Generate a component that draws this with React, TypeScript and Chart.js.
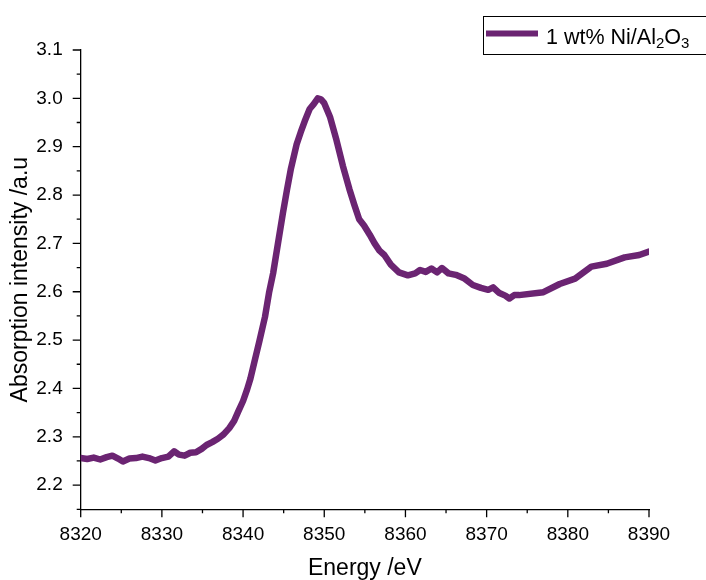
import React, { useEffect, useRef } from "react";
import { Chart, registerables } from "chart.js";

Chart.register(...registerables);

const energy = [
  8320, 8320.8, 8321.6, 8322.4, 8323.2, 8323.9, 8324.6, 8325.2, 8326.0, 8326.8,
  8327.6, 8328.4, 8329.2, 8330.0, 8330.8, 8331.5, 8332.1, 8332.8, 8333.5, 8334.2,
  8334.9, 8335.5, 8336.2, 8336.9, 8337.6, 8338.3, 8338.9, 8339.4, 8340.0, 8340.5,
  8340.9, 8341.4, 8342.0, 8342.7, 8343.2, 8343.7, 8344.3, 8344.9, 8345.4, 8345.9,
  8346.6, 8347.1, 8347.6, 8348.2, 8348.7, 8349.2, 8349.6, 8350.0, 8350.7, 8351.5,
  8352.3, 8353.1, 8353.7, 8354.3, 8354.9, 8355.6, 8356.2, 8356.8, 8357.4, 8358.2,
  8359.2, 8360.3, 8361.2, 8361.8, 8362.5, 8363.2, 8363.9, 8364.5, 8365.3, 8366.2,
  8367.2, 8368.3, 8369.3, 8370.2, 8370.8, 8371.5, 8372.3, 8372.8, 8373.4, 8374.0,
  8377.0, 8379.0, 8380.9, 8382.9, 8384.8, 8387.0, 8388.8, 8390,
];

const absorption = [
  2.256, 2.254, 2.257, 2.253, 2.258, 2.261, 2.255, 2.249, 2.255, 2.256,
  2.259, 2.256, 2.251, 2.256, 2.259, 2.27, 2.263, 2.261, 2.267, 2.268,
  2.275, 2.283, 2.289, 2.296, 2.305, 2.318, 2.333, 2.352, 2.374, 2.398,
  2.42, 2.455, 2.497, 2.548, 2.598, 2.638, 2.7, 2.762, 2.81, 2.855,
  2.905, 2.93, 2.953, 2.978, 2.988, 3.0, 2.998, 2.99, 2.962, 2.914,
  2.86, 2.812, 2.78, 2.75, 2.737, 2.718, 2.7, 2.685, 2.676, 2.656,
  2.64, 2.634, 2.638, 2.645, 2.641, 2.648, 2.64, 2.649, 2.638, 2.635,
  2.628, 2.614, 2.608, 2.604, 2.609, 2.598, 2.592, 2.586, 2.593, 2.593,
  2.599, 2.616, 2.627, 2.652, 2.658, 2.671, 2.676, 2.683,
];

const xMajorTicks = [8320, 8330, 8340, 8350, 8360, 8370, 8380, 8390];
const xMinorTicks = [8325, 8335, 8345, 8355, 8365, 8375, 8385];
const yMajorTicks = [2.2, 2.3, 2.4, 2.5, 2.6, 2.7, 2.8, 2.9, 3.0, 3.1];
const yMinorTicks = [2.15, 2.25, 2.35, 2.45, 2.55, 2.65, 2.75, 2.85, 2.95, 3.05];

const seriesLabelParts: { text: string; sub: boolean }[] = [
  { text: "1 wt% Ni/Al", sub: false },
  { text: "2", sub: true },
  { text: "O", sub: false },
  { text: "3", sub: true },
];

const xTitle = "Energy /eV";
const yTitle = "Absorption intensity /a.u";

const LINE_COLOR = "#6B2472";
const FONT = "'Liberation Sans', Arial, sans-serif";

const tickPlugin = {
  id: "manualTicks",
  afterDraw(chart: any) {
    const ctx = chart.ctx;
    const xs = chart.scales.x;
    const ys = chart.scales.y;
    const area = chart.chartArea;
    ctx.save();
    ctx.strokeStyle = "#000";
    ctx.lineWidth = 1.3;
    ctx.beginPath();
    for (const v of xMajorTicks) {
      const px = xs.getPixelForValue(v);
      ctx.moveTo(px, area.bottom);
      ctx.lineTo(px, area.bottom + 8);
    }
    for (const v of xMinorTicks) {
      const px = xs.getPixelForValue(v);
      ctx.moveTo(px, area.bottom);
      ctx.lineTo(px, area.bottom + 4);
    }
    for (const v of yMajorTicks) {
      const py = ys.getPixelForValue(v);
      ctx.moveTo(area.left, py);
      ctx.lineTo(area.left - 8, py);
    }
    for (const v of yMinorTicks) {
      const py = ys.getPixelForValue(v);
      ctx.moveTo(area.left, py);
      ctx.lineTo(area.left - 4, py);
    }
    ctx.stroke();

    // legend
    const bx = 483;
    const by = 16;
    ctx.lineWidth = 1;
    ctx.strokeStyle = "#000";
    ctx.fillStyle = "#fff";
    ctx.fillRect(bx, by, 260, 38);
    ctx.strokeRect(bx + 0.5, by + 0.5, 260, 38);
    ctx.strokeStyle = LINE_COLOR;
    ctx.lineWidth = 6;
    ctx.beginPath();
    ctx.moveTo(486, 33.5);
    ctx.lineTo(538, 33.5);
    ctx.stroke();
    ctx.fillStyle = "#000";
    ctx.textBaseline = "alphabetic";
    ctx.textAlign = "left";
    let tx = 546;
    for (const p of seriesLabelParts) {
      if (p.sub) {
        ctx.font = `15px ${FONT}`;
        ctx.fillText(p.text, tx, 48);
      } else {
        ctx.font = `21.5px ${FONT}`;
        ctx.fillText(p.text, tx, 43.5);
      }
      tx += ctx.measureText(p.text).width;
    }
    ctx.restore();
  },
};

export default function App() {
  const ref = useRef<HTMLCanvasElement | null>(null);
  useEffect(() => {
    if (!ref.current) return;
    const chart = new Chart(ref.current, {
      type: "line",
      data: {
        datasets: [
          {
            label: "1 wt% Ni/Al2O3",
            data: energy.map((e, i) => ({ x: e, y: absorption[i] })),
            borderColor: LINE_COLOR,
            borderWidth: 6.5,
            pointRadius: 0,
            tension: 0,
            borderJoinStyle: "round",
            borderCapStyle: "round",
          },
        ],
      },
      options: {
        animation: false,
        responsive: false,
        maintainAspectRatio: false,
        devicePixelRatio: 1,
        layout: { padding: { left: 0, right: 57, top: 50, bottom: 0 } },
        plugins: { legend: { display: false }, tooltip: { enabled: false } },
        scales: {
          x: {
            type: "linear",
            min: 8320,
            max: 8390,
            afterBuildTicks: (s: any) => {
              s.ticks = xMajorTicks.map((v) => ({ value: v }));
            },
            afterFit: (s: any) => {
              s.height = 70.7;
            },
            grid: { display: false, drawTicks: false },
            border: { display: true, color: "#000", width: 1.3 },
            ticks: {
              color: "#000",
              padding: 14,
              maxRotation: 0,
              autoSkip: false,
              font: { family: FONT, size: 19 },
              callback: (v: any) => String(v),
            },
            title: {
              display: true,
              text: xTitle,
              color: "#000",
              font: { family: FONT, size: 23, lineHeight: 1 },
              padding: { top: 0, bottom: 0 },
            },
          },
          y: {
            type: "linear",
            min: 2.15,
            max: 3.1,
            afterBuildTicks: (s: any) => {
              s.ticks = yMajorTicks.map((v) => ({ value: v }));
            },
            afterFit: (s: any) => {
              s.width = 80.7;
            },
            grid: { display: false, drawTicks: false },
            border: { display: true, color: "#000", width: 1.3 },
            ticks: {
              color: "#000",
              padding: 18,
              autoSkip: false,
              font: { family: FONT, size: 19 },
              callback: (v: any) => Number(v).toFixed(1),
            },
            title: {
              display: true,
              text: yTitle,
              color: "#000",
              font: { family: FONT, size: 23, lineHeight: 1 },
              padding: { top: 9, bottom: 0 },
            },
          },
        },
      },
      plugins: [tickPlugin],
    });
    return () => chart.destroy();
  }, []);
  return (
    <div style={{ position: "fixed", left: 0, top: 0, width: 706, height: 580, background: "#fff" }}>
      <canvas ref={ref} width={706} height={580} style={{ width: 706, height: 580, display: "block" }} />
    </div>
  );
}
